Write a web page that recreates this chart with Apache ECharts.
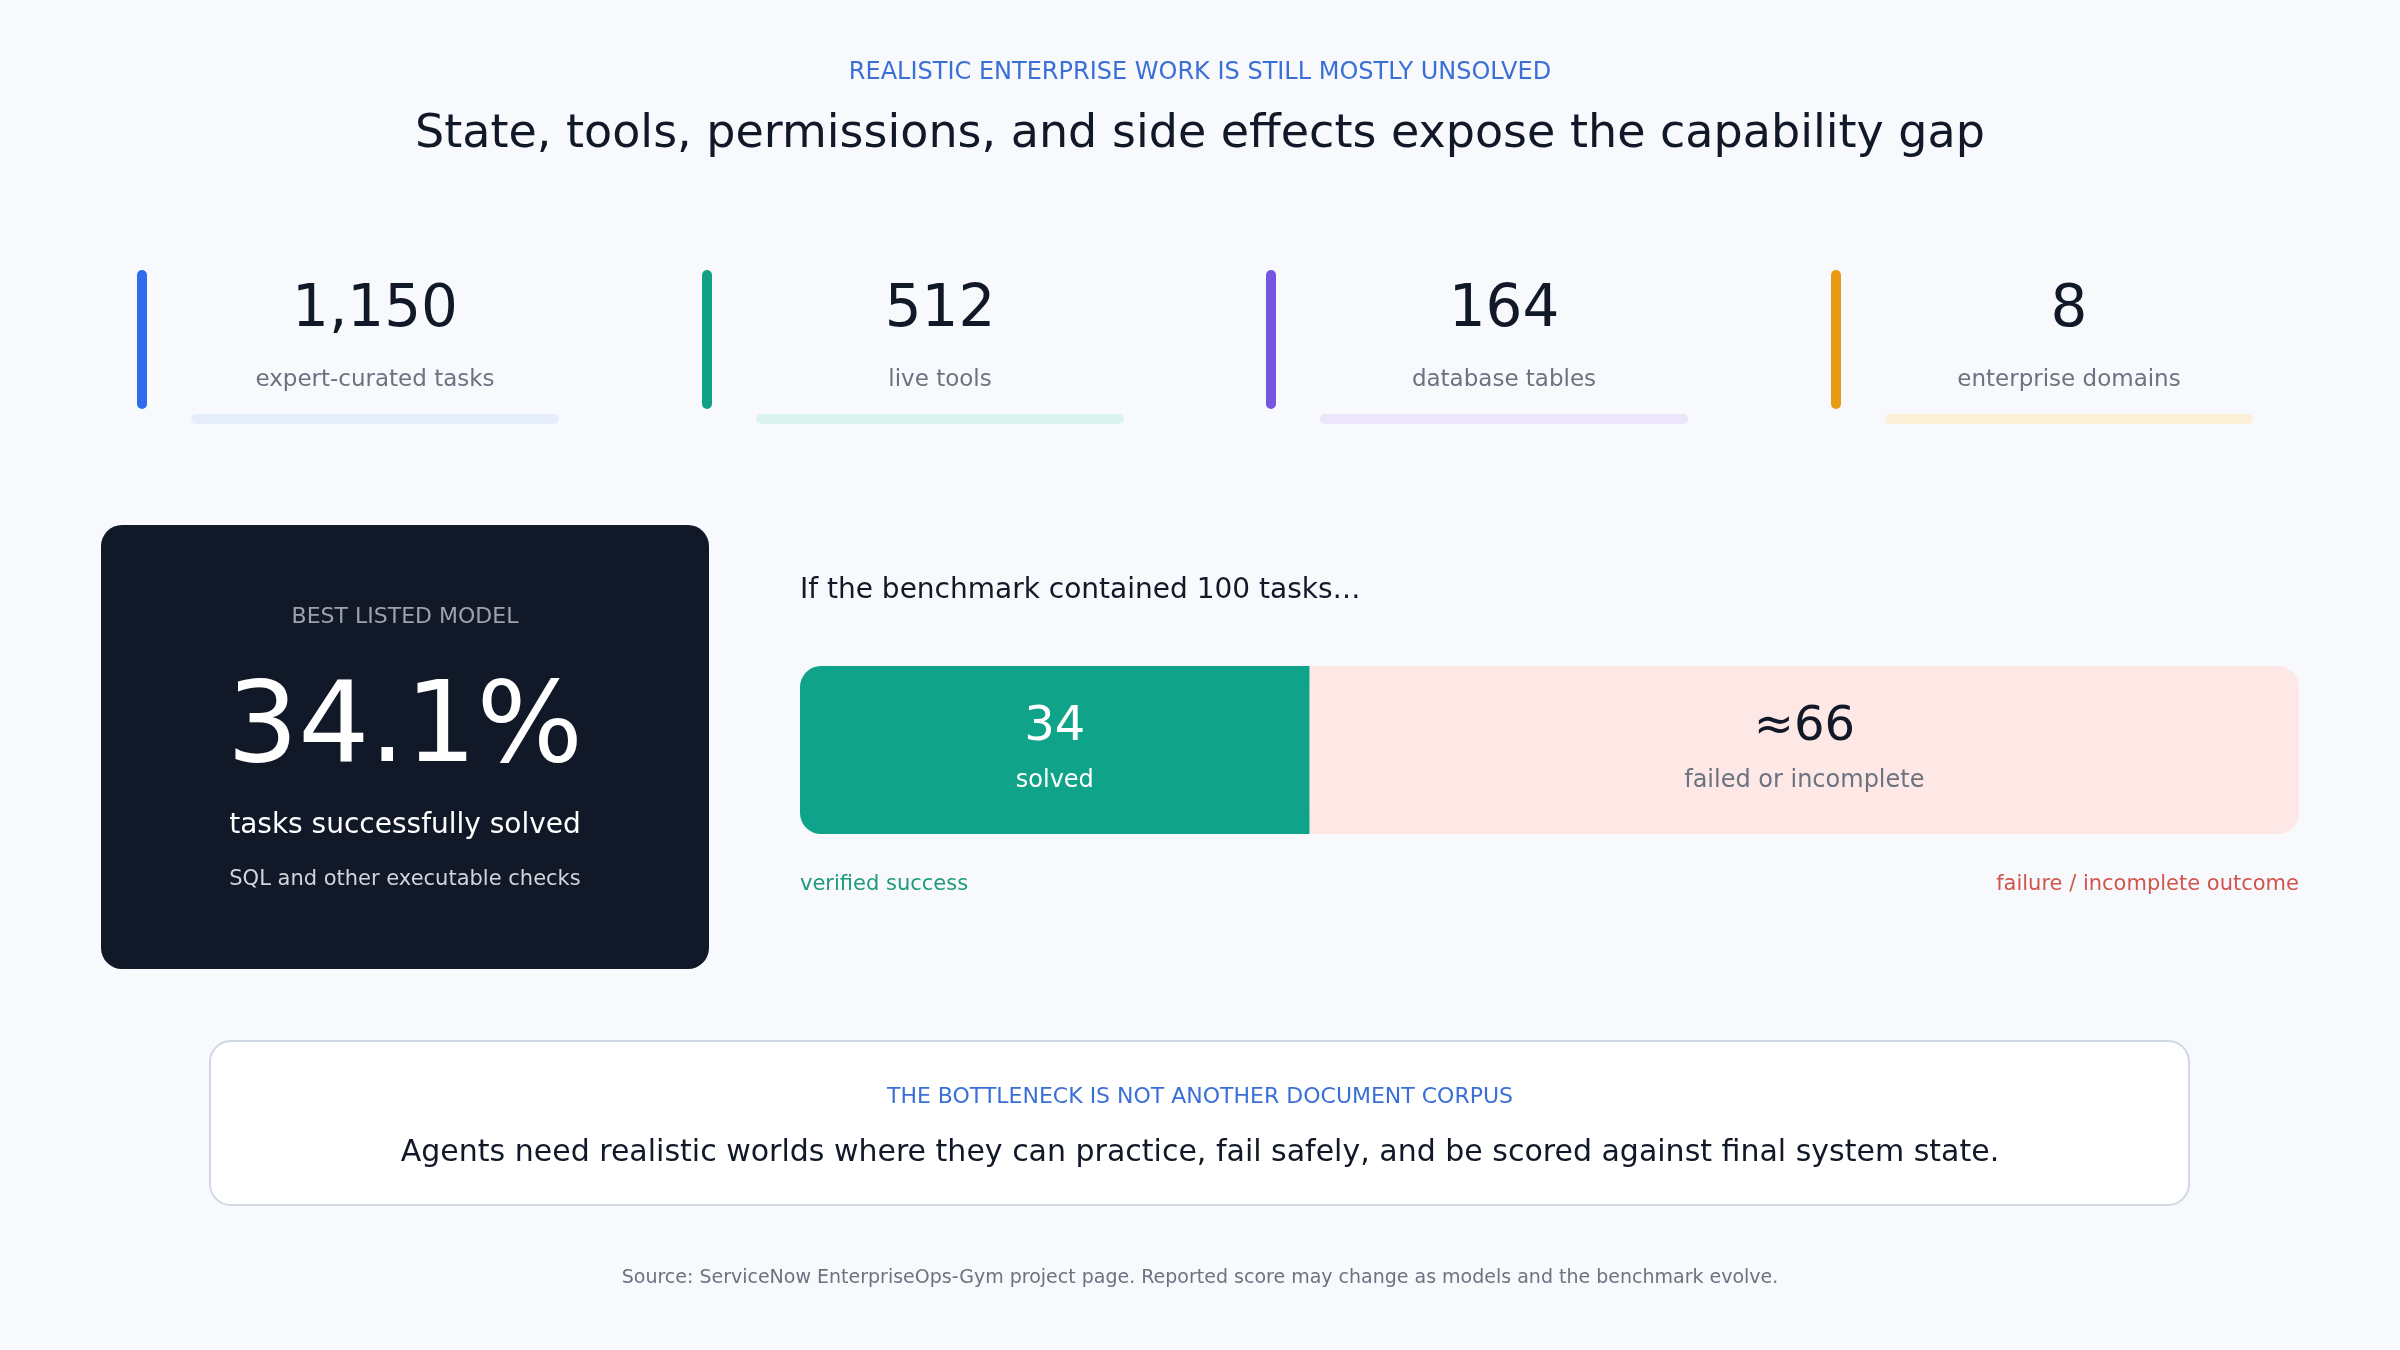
<!DOCTYPE html>
<html><head><meta charset="utf-8">
<script src="https://cdn.jsdelivr.net/npm/echarts@6/dist/echarts.min.js"></script>
<style>html,body{margin:0;padding:0;background:#f7f9fc}#c{width:2400px;height:1350px}</style>
</head><body><div id="c"></div>
<script>
// data
var statValues = ['1,150', '512', '164', '8'];
var statLabels = ['expert-curated tasks', 'live tools', 'database tables', 'enterprise domains'];
var statColors = ['#2f6bec', '#12a184', '#7655e0', '#e89a12'];
var statTints = ['#e6eefc', '#dbf3ed', '#ebe6fa', '#fcf0d6'];
var bestScore = '34.1%';
var outcomeNames = ['solved', 'failed or incomplete'];
var outcomeValues = [34, 66];
var outcomeLabels = ['34', '≈66'];

var F = 'DejaVu Sans';
var chart = echarts.init(document.getElementById('c'));
var g = [];
function txt(x, y, t, size, color, extra) {
  var s = {text: t, x: x, y: y, fontSize: size, fill: color, fontFamily: F, align: 'center', verticalAlign: 'middle'};
  for (var k in extra) s[k] = extra[k];
  g.push({type: 'text', style: s, z: 10});
}
txt(1200, 73, 'REALISTIC ENTERPRISE WORK IS STILL MOSTLY UNSOLVED', 24, '#3b6fd8', {letterSpacing: 4});
txt(1200, 135, 'State, tools, permissions, and side effects expose the capability gap', 46, '#111827');

var barX = [141, 706, 1270, 1835];
for (var i = 0; i < 4; i++) {
  var cx = barX[i] + 234;
  g.push({type: 'rect', shape: {x: barX[i] - 4, y: 270, width: 10, height: 139, r: 5}, style: {fill: statColors[i]}});
  g.push({type: 'rect', shape: {x: cx - 184, y: 414, width: 368, height: 10, r: 5}, style: {fill: statTints[i]}});
  txt(cx, 311, statValues[i], 58, '#111827');
  txt(cx, 380, statLabels[i], 23, '#6b7280');
}

g.push({type: 'rect', shape: {x: 101, y: 525, width: 608, height: 444, r: 21}, style: {fill: '#111827'}});
txt(405, 617, 'BEST LISTED MODEL', 22, '#9ca3af', {letterSpacing: 4});
txt(405, 732, bestScore, 112, '#ffffff');
txt(405, 826, 'tasks successfully solved', 28, '#ffffff');
txt(405, 880, 'SQL and other executable checks', 21, '#d1d5db');

txt(800, 591, 'If the benchmark contained 100 tasks…', 28, '#111827', {align: 'left'});
txt(800, 885, 'verified success', 21, '#1f9a7c', {align: 'left'});
txt(2299, 885, 'failure / incomplete outcome', 21, '#d0554c', {align: 'right'});

g.push({type: 'rect', shape: {x: 210, y: 1041, width: 1979, height: 164, r: 21}, style: {fill: '#ffffff', stroke: '#cfd8e3', lineWidth: 2}});
txt(1200, 1097, 'THE BOTTLENECK IS NOT ANOTHER DOCUMENT CORPUS', 22, '#3b6fd8', {letterSpacing: 3});
txt(1200, 1153, 'Agents need realistic worlds where they can practice, fail safely, and be scored against final system state.', 30, '#111827');
txt(1200, 1278, 'Source: ServiceNow EnterpriseOps-Gym project page. Reported score may change as models and the benchmark evolve.', 19, '#6b7280');

function lbl(i, main, sub) {
  return {show: true, position: 'inside',
    formatter: '{a|' + outcomeLabels[i] + '}\n{b|' + outcomeNames[i] + '}',
    rich: {a: {fontSize: 48, color: main, fontFamily: F, lineHeight: 62},
           b: {fontSize: 24, color: sub, fontFamily: F, lineHeight: 44}}};
}

chart.setOption({
  backgroundColor: '#f7f9fc',
  animation: false,
  grid: {left: 800, width: 1499, top: 666, height: 168},
  xAxis: {type: 'value', min: 0, max: 100, show: false},
  yAxis: {type: 'category', data: ['tasks'], show: false},
  series: [
    {type: 'bar', stack: 't', barWidth: '100%', data: [outcomeValues[0]],
     itemStyle: {color: '#0fa38a', borderRadius: [21, 0, 0, 21]}, label: lbl(0, '#ffffff', '#ffffff')},
    {type: 'bar', stack: 't', barWidth: '100%', data: [outcomeValues[1]],
     itemStyle: {color: '#fde8e6', borderRadius: [0, 21, 21, 0]}, label: lbl(1, '#111827', '#6b7280')}
  ],
  graphic: g
});
</script></body></html>
